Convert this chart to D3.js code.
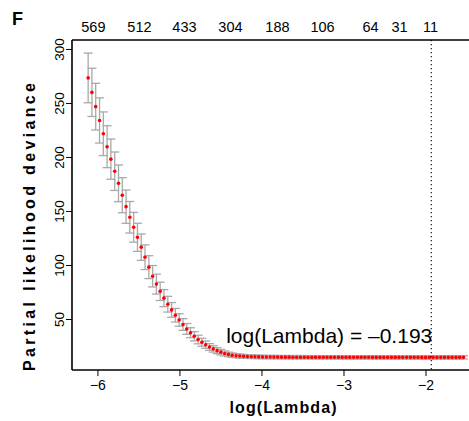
<!DOCTYPE html>
<html><head><meta charset="utf-8">
<script src="https://cdn.jsdelivr.net/npm/d3@7"></script>
<style>html,body{margin:0;padding:0;background:#fff}svg{display:block;font-family:"Liberation Sans",Arial,sans-serif}</style>
</head><body>
<svg id="c" width="469" height="421"></svg>
<script>
const logLambda = [-6.113,-6.067,-6.021,-5.974,-5.928,-5.882,-5.836,-5.789,-5.743,-5.697,
-5.651,-5.605,-5.558,-5.512,-5.466,-5.420,-5.373,-5.327,-5.281,-5.235,
-5.189,-5.142,-5.096,-5.050,-5.004,-4.957,-4.911,-4.865,-4.819,-4.773,
-4.726,-4.680,-4.634,-4.588,-4.541,-4.495,-4.449,-4.403,-4.357,-4.310,
-4.264,-4.218,-4.172,-4.125,-4.079,-4.033,-3.987,-3.941,-3.894,-3.848,
-3.802,-3.756,-3.709,-3.663,-3.617,-3.571,-3.525,-3.478,-3.432,-3.386,
-3.340,-3.293,-3.247,-3.201,-3.155,-3.109,-3.062,-3.016,-2.970,-2.924,
-2.877,-2.831,-2.785,-2.739,-2.693,-2.646,-2.600,-2.554,-2.508,-2.461,
-2.415,-2.369,-2.323,-2.277,-2.230,-2.184,-2.138,-2.092,-2.045,-1.999,
-1.953,-1.907,-1.861,-1.814,-1.768,-1.722,-1.676,-1.629,-1.583,-1.537];
const deviance = [273.2,259.8,246.6,233.8,221.5,209.5,198.0,186.8,175.6,164.6,
154.0,144.2,134.9,125.6,116.5,107.2,98.0,89.6,82.3,75.6,
69.3,63.7,58.4,53.5,49.1,44.9,40.8,37.3,34.0,31.0,
28.5,26.2,24.1,22.3,20.7,19.3,18.1,17.2,16.5,16.0,
15.7,15.4,15.2,15.1,15.0,14.9,14.85,14.8,14.75,14.7,
14.7,14.68,14.67,14.66,14.65,14.64,14.63,14.62,14.61,14.6,
14.6,14.59,14.58,14.57,14.57,14.56,14.56,14.55,14.55,14.54,
14.54,14.53,14.53,14.52,14.52,14.51,14.51,14.5,14.5,14.5,
14.49,14.49,14.48,14.48,14.48,14.47,14.47,14.47,14.46,14.46,
14.45,14.46,14.46,14.47,14.47,14.48,14.48,14.49,14.49,14.5];
const devianceSE = [23.0,22.3,21.6,20.9,20.2,19.4,18.6,17.8,17.0,16.2,
15.4,14.6,13.8,13.0,12.2,11.4,10.6,9.9,9.2,8.5,
7.9,7.3,6.8,6.3,5.8,5.4,5.0,4.6,4.3,4.0,
3.7,3.4,3.1,2.9,2.7,2.5,2.3,2.1,2.0,1.9,
1.8,1.75,1.7,1.65,1.6,1.6,1.55,1.55,1.5,1.5,
1.5,1.5,1.5,1.5,1.5,1.5,1.5,1.5,1.5,1.5,
1.5,1.5,1.5,1.5,1.5,1.5,1.5,1.5,1.5,1.5,
1.5,1.5,1.5,1.5,1.5,1.5,1.5,1.5,1.5,1.5,
1.5,1.5,1.5,1.5,1.5,1.5,1.5,1.5,1.5,1.5,
1.5,1.5,1.5,1.5,1.5,1.5,1.5,1.5,1.5,1.5];
const topLabels = ["569","512","433","304","188","106","64","31","11"];
const topLabelPos = [-6.049,-5.488,-4.939,-4.378,-3.805,-3.256,-2.671,-2.317,-1.939];
const xTicks = [-6,-5,-4,-3,-2];
const yTicks = [50,100,150,200,250,300];
const selectedLogLambda = -1.93;
const annotation = "log(Lambda) = \u20130.193";

(function () {
const svg = d3.select("#c");
const mL = 72, mT = 40, mB = 370, mR = 478;
const x = d3.scaleLinear().domain([-6.31, -1.36]).range([mL, mR]);
const y = d3.scaleLinear().domain([2.78, 308.3]).range([mB, mT]);

// error bars
const eb = svg.append("g").attr("stroke", "#a9a9a9").attr("stroke-width", 1.3).attr("fill", "none");
const cap = 4.5;
logLambda.forEach((lx, i) => {
  const cx = x(lx), hi = y(deviance[i] + devianceSE[i]), lo = y(deviance[i] - devianceSE[i]);
  eb.append("line").attr("x1", cx).attr("x2", cx).attr("y1", hi).attr("y2", lo);
  eb.append("line").attr("x1", cx - cap).attr("x2", cx + cap).attr("y1", hi).attr("y2", hi);
  eb.append("line").attr("x1", cx - cap).attr("x2", cx + cap).attr("y1", lo).attr("y2", lo);
});

// points
svg.append("g").selectAll("circle").data(logLambda).join("circle")
  .attr("cx", d => x(d)).attr("cy", (d, i) => y(deviance[i])).attr("r", 1.8).attr("fill", "#ff0000");

// dotted line
svg.append("line").attr("x1", x(selectedLogLambda)).attr("x2", x(selectedLogLambda))
  .attr("y1", mT).attr("y2", mB).attr("stroke", "#000").attr("stroke-width", 1.1)
  .attr("stroke-dasharray", "1.2,2.8");

// frame
svg.append("path").attr("d", `M${mL},${mT}H469M${mL},${mT}V${mB}M${mL},${mB}H469`)
  .attr("stroke", "#000").attr("stroke-width", 1.6).attr("fill", "none");

// x axis
const xa = svg.append("g").attr("transform", `translate(0,${mB})`)
  .call(d3.axisBottom(x).tickValues(xTicks).tickSize(6).tickPadding(4).tickFormat(d => "\u2212" + Math.abs(d)));
xa.select(".domain").remove();
xa.selectAll("line").attr("stroke", "#000");
xa.selectAll("text").attr("font-size", "14px").attr("fill", "#000").attr("font-family", "Liberation Sans, Arial, sans-serif");

// y axis
const ya = svg.append("g").attr("transform", `translate(${mL},0)`)
  .call(d3.axisLeft(y).tickValues(yTicks).tickSize(6).tickFormat(d3.format("d")));
ya.select(".domain").remove();
ya.selectAll("line").attr("stroke", "#000");
ya.selectAll("text").attr("font-size", "13.5px").attr("fill", "#000").attr("font-family", "Liberation Sans, Arial, sans-serif")
  .attr("x", null).attr("dy", null).attr("text-anchor", "middle")
  .attr("transform", "translate(-8.5,0) rotate(-90)");

// top labels
svg.append("g").selectAll("text").data(topLabels).join("text")
  .attr("x", (d, i) => x(topLabelPos[i])).attr("y", 32).attr("text-anchor", "middle")
  .attr("font-size", "14.5px").text(d => d);

// annotation
svg.append("text").attr("x", x(selectedLogLambda) + 1).attr("y", 343).attr("text-anchor", "end")
  .attr("font-size", "21px").text(annotation);

// titles
svg.append("text").attr("x", 283).attr("y", 413).attr("text-anchor", "middle")
  .attr("font-size", "16px").attr("font-weight", "bold").attr("textLength", 107).attr("lengthAdjust", "spacing").text("log(Lambda)");
svg.append("text").attr("transform", "translate(35,227) rotate(-90)").attr("text-anchor", "middle")
  .attr("font-size", "16px").attr("font-weight", "bold").attr("textLength", 288).attr("lengthAdjust", "spacing").text("Partial likelihood deviance");
svg.append("text").attr("x", 12).attr("y", 25).attr("font-size", "18px").attr("font-weight", "bold").text("F");
})();
</script>
</body></html>
